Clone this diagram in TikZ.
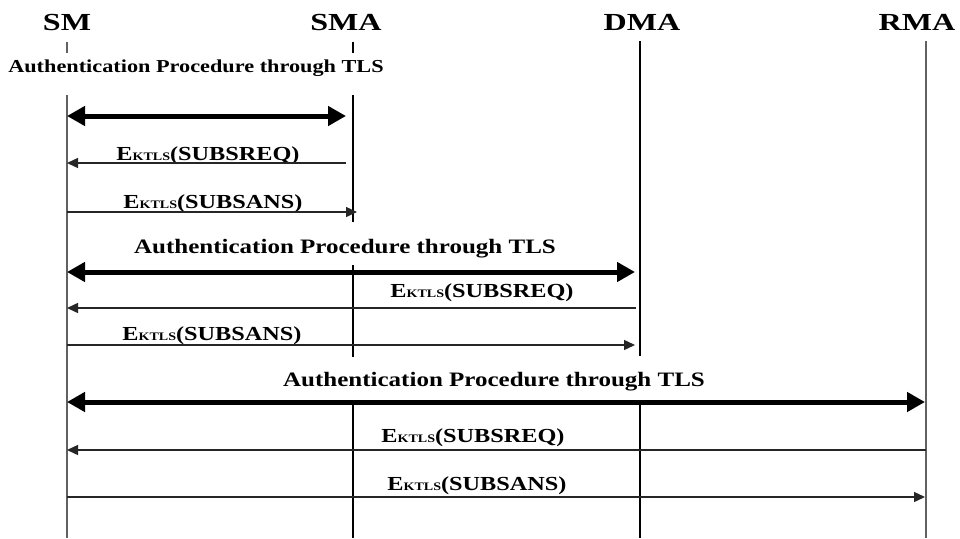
\documentclass[tikz,border=0pt]{standalone}
\usepackage{fontspec}
\newfontfamily\headfont{Liberation Serif}[FakeStretch=1.31]
\newfontfamily\dfont{Liberation Serif}[FakeStretch=1.22]
\usetikzlibrary{arrows.meta}
\newcommand{\ektls}{E{\fontsize{11.5}{12}\selectfont KTLS}}
\begin{document}
\begin{tikzpicture}[x=1pt,y=-1pt,
  head/.style={font=\headfont\bfseries\fontsize{24.5}{25}\selectfont, inner sep=0pt, anchor=base},
  auth/.style={font=\dfont\bfseries\fontsize{20.5}{21}\selectfont, inner sep=0pt, anchor=base},
  authsmall/.style={font=\dfont\bfseries\fontsize{18.25}{19}\selectfont, inner sep=0pt, anchor=base},
  msg/.style={font=\dfont\bfseries\fontsize{19.9}{20}\selectfont, inner sep=0pt, anchor=base},
  life/.style={line width=1.2pt, black},
  lifegray/.style={line width=1.2pt, black!62},
  tlsarrow/.style={line width=5pt, {Triangle[length=18pt,width=19pt]}-{Triangle[length=18pt,width=19pt]}},
  msgarrow/.style={line width=1.4pt, black!85, -{Triangle[length=11pt,width=10pt]}},
]
\useasboundingbox[fill=white] (0,0) rectangle (960,538);

% participants
\node[head] (sm)  at (67,30)  {SM};
\node[head] (sma) at (346,30) {SMA};
\node[head] (dma) at (642,30) {DMA};
\node[head] (rma) at (917,30) {RMA};

% lifelines (interrupted where a title crosses them)
\draw[lifegray] (67,42) -- (67,53);
\draw[lifegray] (67,95) -- (67,538);
\draw[life] (353,42) -- (353,53);
\draw[life] (353,95) -- (353,222);
\draw[life] (353,265) -- (353,357);
\draw[life] (353,403) -- (353,538);
\draw[life] (640,41) -- (640,356);
\draw[life] (640,403) -- (640,538);
\draw[lifegray] (926,41) -- (926,538);

% SM <-> SMA
\node[authsmall] (auth1) at (196,72) {Authentication Procedure through TLS};
\coordinate (t1l) at (67,116);  \coordinate (t1r) at (346,116);
\draw[tlsarrow] (t1l) -- (t1r);
\node[msg] (req1) at (208,160) {\ektls(SUBSREQ)};
\coordinate (r1a) at (346,163); \coordinate (r1b) at (67,163);
\draw[msgarrow] (r1a) -- (r1b);
\node[msg] (ans1) at (213,208) {\ektls(SUBSANS)};
\coordinate (s1a) at (67,212); \coordinate (s1b) at (357,212);
\draw[msgarrow] (s1a) -- (s1b);

% SM <-> DMA
\node[auth] (auth2) at (345,253) {Authentication Procedure through TLS};
\coordinate (t2l) at (67,272);  \coordinate (t2r) at (635,272);
\draw[tlsarrow] (t2l) -- (t2r);
\node[msg] (req2) at (482,297) {\ektls(SUBSREQ)};
\coordinate (r2a) at (636,308); \coordinate (r2b) at (67,308);
\draw[msgarrow] (r2a) -- (r2b);
\node[msg] (ans2) at (212,340) {\ektls(SUBSANS)};
\coordinate (s2a) at (67,345); \coordinate (s2b) at (635,345);
\draw[msgarrow] (s2a) -- (s2b);

% SM <-> RMA
\node[auth] (auth3) at (494,386) {Authentication Procedure through TLS};
\coordinate (t3l) at (67,402);  \coordinate (t3r) at (925,402);
\draw[tlsarrow] (t3l) -- (t3r);
\node[msg] (req3) at (473,442) {\ektls(SUBSREQ)};
\coordinate (r3a) at (926,450); \coordinate (r3b) at (67,450);
\draw[msgarrow] (r3a) -- (r3b);
\node[msg] (ans3) at (477,490) {\ektls(SUBSANS)};
\coordinate (s3a) at (67,497); \coordinate (s3b) at (925,497);
\draw[msgarrow] (s3a) -- (s3b);
\end{tikzpicture}
\end{document}
